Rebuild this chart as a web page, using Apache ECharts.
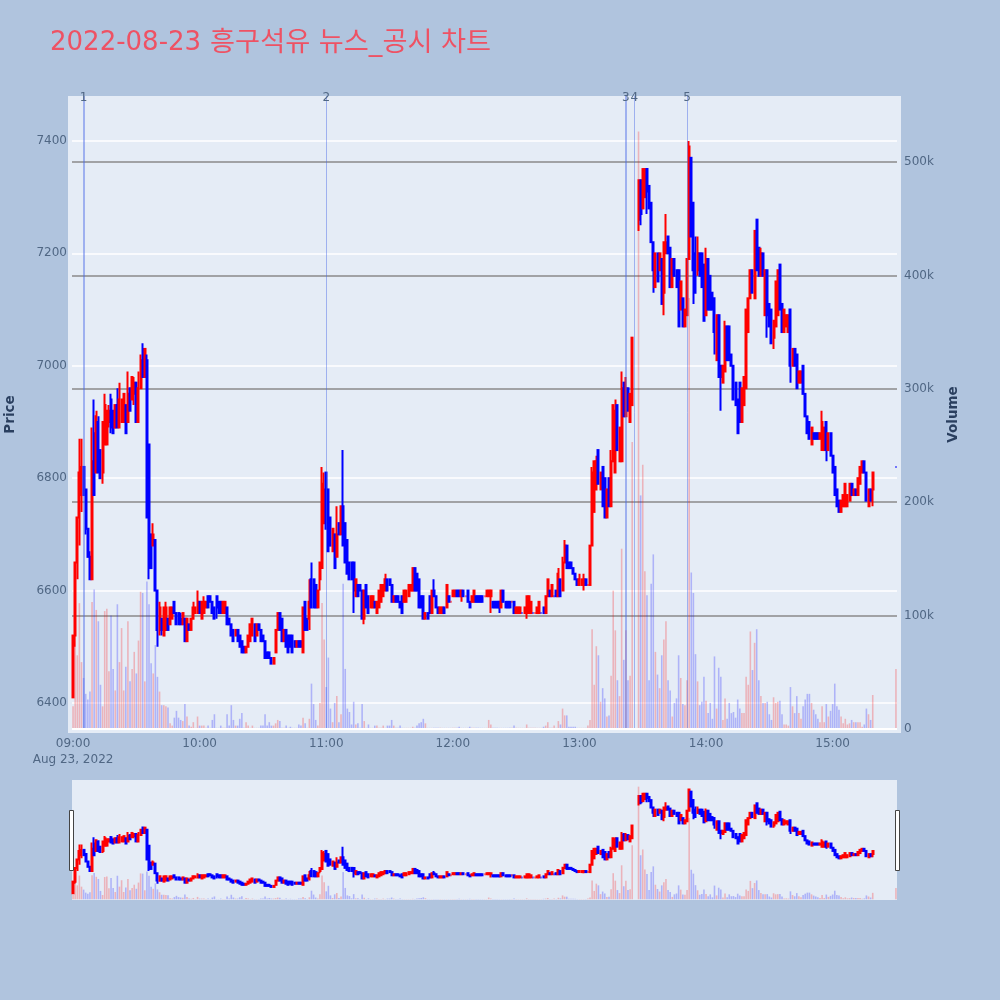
<!DOCTYPE html>
<html><head><meta charset="utf-8">
<style>html,body{margin:0;padding:0;background:#b0c4de}#c{width:1000px;height:1000px}</style>
<script src="https://cdn.jsdelivr.net/npm/echarts@6/dist/echarts.min.js"></script>
</head><body><div id="c"></div>
<script>
const N=null;
const opens=[
6410,6520,6650,6730,6770,6820,6780,6710,6660,6620,
6880,6810,6900,6850,6810,6860,6860,6900,6940,6920,
6890,6930,6890,6900,6900,6930,6900,6960,6940,6950,
6970,6900,6960,7030,6980,7010,6860,6700,6680,6690,
6600,6530,6550,6520,6530,6550,6540,6550,6580,6560,
6560,6550,6540,6550,6510,6540,6530,6550,6560,6560,
6580,6550,6560,6570,6590,6590,6580,6570,6590,6580,
6580,6560,6560,6570,6550,6540,6530,6520,6530,6520,
6510,6500,6490,6500,6510,6520,6540,6520,6540,6530,
6520,6510,6490,6490,6480,6470,6490,6530,6560,6550,
6510,6530,6520,6520,6520,6510,6500,6510,6510,6490,
6580,6550,6550,6620,6620,6610,6570,6620,6640,6720,
6810,6780,6730,6670,6700,6660,6720,6700,6750,6720,
6690,6650,6650,6650,6590,6610,6610,6600,6550,6610,
6590,6570,6570,6580,6560,6570,6580,6590,6600,6620,
6620,6610,6580,6590,6590,6580,6590,6580,6580,6590,
6600,6600,6640,6630,6620,6590,6590,6550,6560,6590,
6560,6600,6590,6570,6560,6560,6570,6570,6590,6580,
6590,6590,6600,6600,6590,6600,6590,6600,6580,6580,
6580,6590,6590,6590,6590,6590,6590,6590,6590,6580,
6580,6580,6580,6570,6600,6580,6580,6580,6580,6580,
6560,6560,6560,6560,6560,6560,6560,6560,6560,6560,
6560,6560,6560,6570,6560,6590,6600,6590,6590,6600,
6590,6620,6600,6650,6680,6650,6650,6640,6630,6620,
6610,6610,6610,6620,6610,6610,6680,6740,6780,6850,
6780,6820,6800,6730,6800,6750,6830,6810,6930,6830,
6830,6970,6910,6960,6900,6930,N,N,7260,7330,
7280,7300,7350,7320,7290,7220,7140,7200,7170,7190,
7130,7200,7230,7210,7140,7190,7170,7170,7100,7120,
7070,7090,7190,7370,7290,7200,7170,7200,7200,7180,
7090,7190,7160,7130,7120,7010,7090,7000,6970,6990,
7070,7070,7020,7000,6970,6940,6970,6900,6930,6960,
7060,7120,7170,7120,7260,7210,7160,7200,7090,7170,
7110,7100,7050,7070,7090,7180,7110,7060,7070,7060,
7100,7000,7030,7020,6970,6970,7000,6950,6910,6900,
6860,6880,6880,6880,6870,6850,6850,6900,6850,6880,
6840,6820,6780,6760,6740,6750,6750,6750,6760,6790,
6770,6780,6770,6790,6810,6830,6810,6750,6780,6780,
N,N,N,N,N,N,N,N,N,N,6820];
const closes=[
6520,6650,6730,6810,6820,6770,6710,6660,6620,6830,
6770,6910,6810,6800,6900,6930,6920,6920,6890,6880,
6930,6890,6940,6940,6950,6880,6950,6920,6980,6970,
6900,6960,7010,6980,7030,6730,6640,6640,6700,6600,
6530,6570,6530,6570,6570,6530,6570,6570,6560,6540,
6540,6540,6560,6510,6550,6530,6550,6570,6570,6580,
6560,6580,6580,6580,6570,6580,6560,6550,6570,6560,
6560,6580,6580,6540,6540,6520,6510,6530,6510,6500,
6490,6490,6500,6520,6540,6550,6510,6540,6530,6510,
6510,6480,6480,6480,6470,6480,6530,6560,6530,6510,
6530,6500,6490,6500,6490,6500,6510,6500,6500,6570,
6530,6530,6580,6570,6570,6570,6600,6650,6790,6780,
6710,6670,6680,6710,6640,6700,6700,6750,6680,6650,
6630,6620,6620,6600,6620,6590,6600,6550,6600,6570,
6560,6590,6590,6570,6580,6600,6610,6610,6620,6600,
6610,6580,6590,6580,6580,6570,6560,6600,6600,6610,
6610,6640,6600,6600,6570,6570,6550,6560,6550,6560,
6600,6590,6570,6560,6570,6570,6560,6610,6580,6580,
6600,6600,6590,6590,6600,6590,6590,6580,6570,6590,
6600,6580,6580,6580,6580,6590,6600,6600,6600,6570,
6570,6570,6570,6600,6580,6570,6570,6570,6580,6560,
6570,6570,6570,6560,6570,6590,6590,6580,6560,6560,
6570,6580,6560,6560,6590,6620,6590,6610,6590,6590,
6630,6590,6650,6680,6640,6640,6640,6630,6620,6610,
6620,6620,6620,6610,6610,6680,6810,6830,6830,6790,
6810,6750,6730,6780,6750,6830,6930,6920,6850,6890,
6960,6910,6960,6920,6950,7050,N,N,7330,7270,
7350,7350,7310,7280,7220,7170,7200,7150,7200,7110,
7220,7220,7200,7140,7190,7160,7140,7070,7150,7070,
7100,7190,7390,7230,7170,7130,7200,7160,7140,7080,
7190,7100,7100,7100,7060,7090,6980,6980,7000,7070,
7010,7010,7000,6940,6930,6880,6900,6960,6980,7100,
7120,7170,7130,7240,7170,7160,7200,7160,7170,7090,
7070,7040,7080,7150,7170,7100,7060,7100,7090,7090,
7000,7030,7000,6960,6990,6990,6950,6910,6880,6870,
6890,6870,6870,6870,6880,6900,6890,6850,6880,6840,
6810,6770,6750,6740,6760,6770,6790,6770,6790,6770,
6780,6770,6800,6820,6830,6810,6760,6780,6760,6810,
N,N,N,N,N,N,N,N,N,N,6820];
const lows=[
6410,6500,6620,6680,6740,6770,6700,6660,6620,6620,
6770,6810,6810,6800,6790,6860,6860,6890,6880,6880,
6890,6890,6890,6900,6900,6880,6900,6920,6940,6930,
6900,6900,6960,6980,6980,6730,6620,6640,6680,6600,
6500,6520,6520,6520,6530,6530,6540,6550,6560,6540,
6540,6540,6540,6510,6510,6530,6530,6550,6560,6560,
6560,6550,6560,6570,6570,6580,6560,6550,6550,6560,
6560,6560,6560,6540,6540,6520,6510,6520,6510,6500,
6490,6490,6490,6500,6510,6520,6510,6520,6530,6510,
6510,6480,6480,6480,6470,6470,6490,6530,6530,6510,
6510,6500,6490,6500,6490,6500,6500,6500,6500,6490,
6530,6530,6530,6570,6570,6570,6570,6600,6640,6720,
6710,6670,6680,6670,6640,6660,6700,6700,6680,6650,
6630,6620,6620,6560,6590,6590,6600,6550,6540,6570,
6560,6570,6570,6570,6560,6570,6580,6590,6600,6600,
6610,6580,6580,6580,6580,6570,6560,6580,6580,6590,
6600,6600,6600,6600,6570,6570,6550,6550,6550,6560,
6560,6590,6570,6560,6560,6560,6560,6570,6580,6580,
6590,6590,6590,6590,6580,6590,6590,6580,6570,6580,
6580,6580,6580,6580,6580,6590,6590,6590,6560,6570,
6570,6570,6560,6570,6580,6570,6570,6570,6580,6560,
6560,6560,6560,6560,6560,6550,6560,6560,6560,6560,
6560,6560,6560,6560,6560,6590,6590,6590,6590,6590,
6590,6590,6600,6650,6640,6640,6640,6630,6620,6610,
6610,6610,6600,6610,6610,6610,6680,6740,6780,6790,
6780,6750,6730,6730,6750,6750,6830,6810,6850,6830,
6830,6910,6910,6920,6900,6930,N,N,7240,7250,
7280,7300,7270,7280,7220,7130,7140,7150,7170,7110,
7090,7200,7200,7140,7140,7160,7140,7070,7100,7070,
7070,7090,7190,7230,7110,7130,7160,7160,7140,7080,
7090,7100,7100,7100,7020,7010,6980,6920,6970,6990,
7010,7010,7000,6940,6930,6880,6900,6900,6930,6960,
7060,7120,7130,7120,7170,7160,7160,7160,7090,7050,
7070,7040,7030,7070,7090,7100,7060,7060,7070,7060,
6970,7000,7000,6960,6970,6970,6950,6910,6880,6870,
6860,6870,6870,6870,6870,6850,6850,6830,6850,6840,
6810,6770,6750,6740,6740,6750,6750,6750,6760,6770,
6770,6770,6770,6790,6810,6810,6760,6750,6760,6750,
N,N,N,N,N,N,N,N,N,N,6820];
const highs=[
6520,6650,6730,6870,6870,6820,6780,6710,6670,6890,
6940,6920,6910,6850,6900,6950,6920,6930,6950,6920,
6930,6960,6970,6940,6950,6930,6990,6960,6980,6980,
6970,6990,7020,7040,7030,7020,6860,6700,6720,6690,
6600,6580,6550,6570,6580,6550,6570,6570,6580,6560,
6560,6560,6560,6550,6550,6540,6550,6580,6570,6600,
6580,6580,6590,6580,6590,6590,6580,6570,6590,6580,
6580,6580,6580,6570,6550,6540,6530,6530,6530,6520,
6510,6500,6500,6520,6540,6550,6540,6540,6540,6530,
6520,6510,6490,6490,6480,6480,6530,6560,6560,6550,
6530,6530,6520,6520,6520,6510,6510,6510,6510,6570,
6580,6550,6620,6650,6620,6610,6600,6650,6820,6810,
6810,6780,6730,6710,6700,6750,6720,6750,6850,6720,
6690,6650,6650,6650,6620,6610,6610,6600,6600,6610,
6590,6590,6590,6580,6580,6600,6610,6610,6630,6620,
6620,6610,6590,6590,6590,6580,6590,6600,6600,6610,
6610,6640,6640,6630,6620,6590,6590,6560,6560,6590,
6600,6620,6590,6570,6570,6570,6570,6610,6590,6580,
6600,6600,6600,6600,6600,6600,6590,6600,6580,6590,
6600,6590,6590,6590,6590,6590,6600,6600,6600,6580,
6580,6580,6580,6600,6600,6580,6580,6580,6580,6580,
6570,6570,6570,6560,6570,6590,6590,6580,6560,6560,
6570,6580,6560,6570,6590,6620,6600,6610,6590,6600,
6640,6620,6660,6690,6680,6650,6650,6640,6630,6620,
6630,6620,6630,6620,6610,6680,6820,6830,6840,6850,
6810,6820,6800,6780,6800,6850,6930,6940,6930,6890,
6990,6970,6980,6960,6950,7050,N,N,7330,7330,
7350,7350,7350,7320,7290,7220,7200,7200,7200,7190,
7220,7270,7230,7210,7190,7190,7170,7170,7150,7120,
7100,7190,7400,7370,7290,7230,7230,7200,7200,7180,
7210,7190,7160,7130,7120,7090,7090,7000,7000,7080,
7070,7070,7020,7000,6970,6940,6970,6960,6980,7100,
7120,7170,7170,7240,7260,7210,7210,7200,7170,7170,
7110,7100,7080,7150,7170,7180,7110,7100,7090,7090,
7100,7030,7030,7020,6990,6990,7000,6950,6910,6900,
6890,6880,6880,6880,6880,6920,6890,6900,6880,6880,
6840,6820,6780,6760,6760,6770,6790,6770,6790,6790,
6780,6780,6800,6820,6830,6830,6810,6780,6780,6810,
N,N,N,N,N,N,N,N,N,N,6820];
const volumes=[
20,132,65,111,59,45,31,26,33,112,
123,105,95,39,20,104,106,51,100,53,
34,110,59,89,34,55,95,42,53,68,
49,78,121,120,42,130,110,58,49,74,
46,33,21,21,20,19,5,3,10,16,
10,8,7,22,11,3,2,6,1,11,
3,3,3,1,3,1,8,13,1,1,
3,1,1,13,3,21,8,3,3,9,
14,1,6,3,1,3,1,1,1,3,
3,13,3,6,3,3,5,8,7,1,
1,3,1,2,1,1,1,4,3,10,
5,1,9,40,22,8,3,23,111,79,
37,63,18,6,23,29,6,13,128,53,
18,15,4,24,4,5,1,22,7,1,
4,1,1,3,3,1,1,3,1,3,
3,8,3,1,1,3,1,1,1,1,
1,2,1,3,5,6,9,5,1,1,
1,1,1,1,1,1,1,1,1,1,
1,1,1,2,1,1,1,1,2,1,
1,1,1,1,1,1,1,8,4,1,
1,1,1,1,1,1,1,1,1,3,
1,1,1,1,1,4,1,1,1,1,
1,1,1,2,3,6,1,1,3,1,
7,4,18,12,12,2,2,2,2,1,
1,1,1,1,3,8,88,39,73,65,
24,36,27,11,12,47,122,87,43,29,
159,61,87,43,47,253,N,N,527,206,
233,139,118,43,128,154,68,48,36,65,
79,95,43,34,11,23,27,65,45,22,
21,43,380,138,120,66,42,21,24,46,
25,14,23,9,64,18,54,46,8,27,
9,23,14,15,10,26,18,14,14,46,
39,86,52,76,88,43,29,23,23,24,
13,8,28,23,24,25,13,4,4,3,
37,20,14,29,14,9,20,26,31,31,
23,17,13,9,6,20,6,22,11,16,
22,40,20,17,11,5,9,4,5,8,
6,6,6,6,2,4,18,13,8,30,
N,N,N,N,N,N,N,N,N,N,53];
const newsLabels=['1','2','3','4','5'];
const newsMinutes=[5,120,262,266,291];
const newsWidths=[2,1,2,1,1];
const priceTicks=[6400,6600,6800,7000,7200,7400];
const volumeTicks=[0,100,200,300,400,500];
const titleDate='2022-08-23';
const titleName='흥구석유 뉴스_공시 차트';

const pad=n=>String(n).padStart(2,'0');
const categories=opens.map((_,i)=>pad(9+Math.floor(i/60))+':'+pad(i%60));
const ohlc=opens.map((o,i)=>o===null?['-','-','-','-']:[o,closes[i],lows[i],highs[i]]);
const FONT="'DejaVu Sans','Noto Sans CJK KR',sans-serif";
const RED='#ff0000',BLUE='#0000ff';
const PRICE=[6346.6,7480],VOL=[-3.53,558.2];
const volColor=p=>(closes[p.dataIndex]!==null&&closes[p.dataIndex]<opens[p.dataIndex])?'rgba(0,0,255,0.24)':'rgba(255,0,0,0.24)';
const candleStyle={color:RED,color0:BLUE,borderColor:RED,borderColor0:BLUE,borderWidth:2};
const lbl={color:'#506784',fontSize:12,fontFamily:FONT};
const chart=echarts.init(document.getElementById('c'),null,{renderer:'canvas'});
chart.setOption({
 animation:false,
 backgroundColor:'#b0c4de',
 title:{text:'{a|'+titleDate+'} {b|'+titleName+'}',left:45,top:25,textStyle:{fontWeight:'normal',rich:{
   a:{color:'#ee5264',fontSize:26,fontWeight:'normal',fontFamily:FONT,padding:[0,4,0,0]},
   b:{color:'#ee5264',fontSize:27.2,fontWeight:'normal',fontFamily:FONT}}}},
 graphic:[
  {type:'rect',z:-100,shape:{x:68,y:96,width:833,height:637},style:{fill:'#e5ecf6'},silent:true},
  {type:'rect',z:100,shape:{x:69.5,y:810.5,width:4,height:60},style:{fill:'#fff',stroke:'#444',lineWidth:1},silent:true},
  {type:'rect',z:100,shape:{x:895.5,y:810.5,width:4,height:60},style:{fill:'#fff',stroke:'#444',lineWidth:1},silent:true}
 ],
 grid:[
  {left:72,width:825,top:96,height:637,outerBoundsMode:'none'},
  {left:72,width:825,top:780,height:120,show:true,backgroundColor:'#e5ecf6',borderWidth:0,outerBoundsMode:'none'}
 ],
 xAxis:[
  {type:'category',gridIndex:0,data:categories,boundaryGap:true,
   axisLine:{show:false},axisTick:{show:false},splitLine:{show:false},
   axisLabel:{...lbl,interval:(i)=>i%60===0,margin:3,lineHeight:16,hideOverlap:false,
     formatter:(v,i)=>i===0?v+'\nAug 23, 2022':v}},
  {type:'category',gridIndex:1,data:categories,boundaryGap:true,show:false}
 ],
 yAxis:[
  {type:'value',gridIndex:0,min:PRICE[0],max:PRICE[1],position:'left',
   name:'Price',nameLocation:'middle',nameGap:55,nameRotate:90,
   nameTextStyle:{color:'#2a3f5f',fontSize:13.5,fontWeight:'bold',fontFamily:FONT},
   axisLine:{show:false},axisTick:{show:false,customValues:priceTicks},
   axisLabel:{...lbl,margin:5,padding:[2,0,0,0],customValues:priceTicks,formatter:v=>String(v)},
   splitLine:{show:true,lineStyle:{color:'#ffffff',width:1.5}}},
  {type:'value',gridIndex:0,min:VOL[0],max:VOL[1],position:'right',
   name:'Volume',nameLocation:'middle',nameGap:50,nameRotate:90,
   nameTextStyle:{color:'#2a3f5f',fontSize:13.5,fontWeight:'bold',fontFamily:FONT},
   axisLine:{show:false},axisTick:{show:false,customValues:volumeTicks},
   axisLabel:{...lbl,margin:7,padding:[2,0,0,0],customValues:volumeTicks,formatter:v=>v===0?'0':v+'k'},
   splitLine:{show:true,lineStyle:{color:'#8a8a8a',width:1.5}}},
  {type:'value',gridIndex:1,min:PRICE[0],max:PRICE[1],show:false,splitLine:{show:false}},
  {type:'value',gridIndex:1,min:VOL[0],max:VOL[1],show:false,splitLine:{show:false}}
 ],
 series:[
  {type:'bar',name:'Volume',xAxisIndex:0,yAxisIndex:1,data:volumes,barWidth:1.6,z:2,silent:true,
   itemStyle:{color:volColor},
   markLine:{silent:true,symbol:'none',animation:false,label:{show:false},
     lineStyle:{color:'#ffffff',width:2,type:'solid'},data:[{yAxis:0}]}},
  {type:'candlestick',name:'Price',xAxisIndex:0,yAxisIndex:0,data:ohlc,barWidth:1.5,z:3,silent:true,
   itemStyle:candleStyle,
   markLine:{silent:true,symbol:'none',animation:false,z:4,
     label:{show:true,position:'end',distance:-8,...lbl},
     data:newsMinutes.map((m,i)=>[
       {xAxis:m,yAxis:6354,label:{formatter:newsLabels[i]},
        lineStyle:{color:'rgba(70,105,230,0.45)',width:newsWidths[i],type:'solid'}},
       {xAxis:m,yAxis:PRICE[1]}])}},
  {type:'bar',xAxisIndex:1,yAxisIndex:3,data:volumes,barWidth:1.6,z:2,silent:true,itemStyle:{color:volColor}},
  {type:'candlestick',xAxisIndex:1,yAxisIndex:2,data:ohlc,barWidth:1.5,z:3,silent:true,itemStyle:candleStyle}
 ]
});
</script></body></html>
